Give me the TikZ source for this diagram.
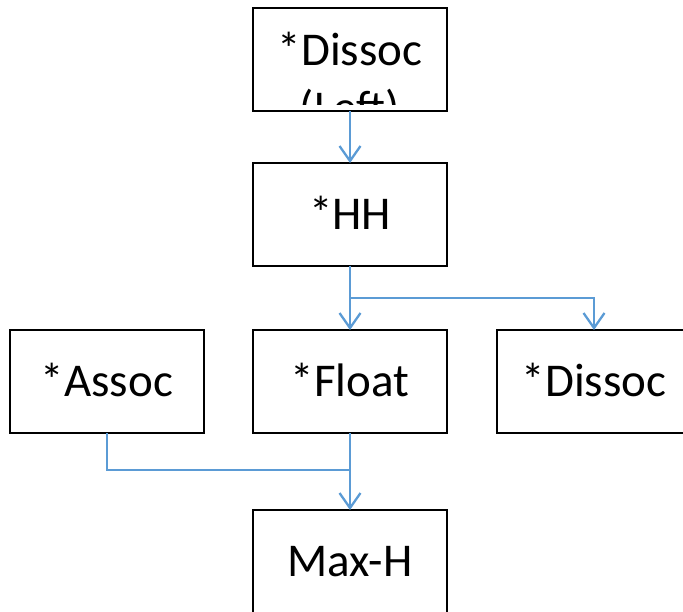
\documentclass[tikz,border=0pt]{standalone}
\usepackage{fontspec}
\setmainfont{Carlito}
\usetikzlibrary{arrows.meta, positioning, calc}

\begin{document}
\begin{tikzpicture}[
    x=1pt, y=1pt,
    node distance=52pt,
    box/.style={draw, line width=2.5pt, rectangle, minimum width=194pt, minimum height=103pt, inner sep=0pt, outer sep=0pt},
    lbl/.style={font=\fontsize{47}{58}\selectfont, align=center, inner sep=0pt},
    boxlbl/.style={box, font=\fontsize{47}{58}\selectfont, text height=30pt, text depth=0pt},
    arrow/.style={-{Straight Barb[length=15pt, width=21pt]}, line width=2.3pt, draw=linkblue},
    link/.style={line width=2.3pt, draw=linkblue}
]
\definecolor{linkblue}{RGB}{91,155,213}

\useasboundingbox (0,0) rectangle (683,-611);
\clip (0,0) rectangle (683,-611);

% Top box (text runs over its lower edge)
\node[box] (dissocl) at (350,-59.5) {};
\begin{scope}
  \clip ($(dissocl.south west)+(0,7)$) rectangle (dissocl.north east);
  \node[lbl, anchor=base] (dissocltxt) at ($(dissocl.north)+(0,-115)$) {*Dissoc\\(Left)};
\end{scope}

% Main column
\node[boxlbl, below=of dissocl] (hh) {*HH};
\node[boxlbl, below=64pt of hh] (float) {*Float};
\node[boxlbl, below=77pt of float] (maxh) {Max-H};

% Side boxes
\node[boxlbl, left=49pt of float] (assoc) {*Assoc};
\node[boxlbl, right=50pt of float] (dissocr) {*Dissoc};

% Junction points
\coordinate (split) at ($(hh.south)+(0,-32)$);
\coordinate (join) at ($(float.south)+(0,-37)$);

% Arrows
\draw[arrow] (dissocl) -- (hh);
\draw[arrow] (hh.south) -- (float.north);
\draw[arrow] (hh.south) -- (split) -| (dissocr.north);
\draw[link] (assoc.south) |- (join);
\draw[arrow] (float.south) -- (maxh.north);

\end{tikzpicture}
\end{document}
